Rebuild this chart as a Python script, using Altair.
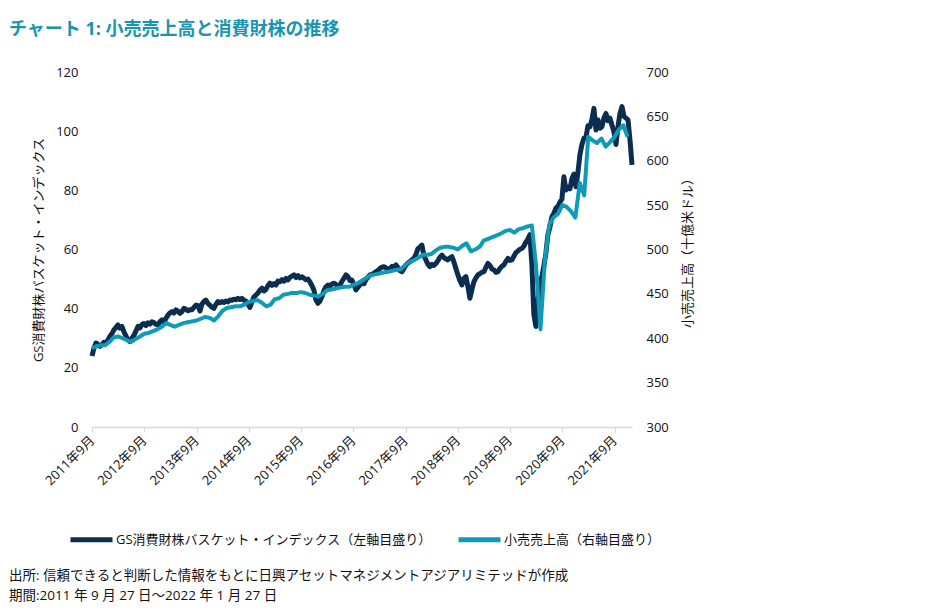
import altair as alt
import pandas as pd

FONT = "Open Sans, Noto Sans CJK JP"

title_text = "チャート 1: 小売売上高と消費財株の推移"
source_lines = [
    "出所: 信頼できると判断した情報をもとに日興アセットマネジメントアジアリミテッドが作成",
    "期間:2011 年 9 月 27 日～2022 年 1 月 27 日",
]
series_names = [
    "GS消費財株バスケット・インデックス（左軸目盛り）",
    "小売売上高（右軸目盛り）",
]
series_colors = ["#0b2e50", "#0f9bb5"]
left_title = "GS消費財株バスケット・インデックス"
right_title = "小売売上高（十億米ドル）"
tick_years = [2011, 2012, 2013, 2014, 2015, 2016, 2017, 2018, 2019, 2020, 2021]
left_ticks = [0, 20, 40, 60, 80, 100, 120]
right_ticks = [300, 350, 400, 450, 500, 550, 600, 650, 700]

# GS consumer basket index (left axis), ~every two weeks, 2011-09-27 .. 2022-01-27
gs_start = "2011-09-27"
gs_end = "2022-01-27"
gs_values = [
    24.0, 26.5, 28.4, 28.0, 27.3, 27.8, 28.6, 28.3, 29.4, 30.6,
    31.5, 32.8, 33.6, 34.5, 33.4, 34.0, 32.2, 30.8, 29.4, 28.9,
    30.0, 31.0, 32.4, 34.0, 33.5, 34.6, 35.0, 34.3, 35.2, 34.8,
    35.6, 35.3, 34.7, 34.5, 35.6, 36.2, 35.4, 36.7, 37.8, 38.6,
    39.0, 38.5, 39.6, 39.2, 38.4, 39.0, 40.1, 39.8, 39.3, 39.6,
    39.6, 40.5, 41.2, 41.0, 39.2, 41.5, 42.4, 42.9, 41.8, 41.2,
    40.5, 40.1, 41.4, 42.4, 42.0, 42.4, 42.1, 42.6, 42.3, 42.9,
    42.8, 43.2, 43.0, 43.5, 43.1, 43.5, 42.9, 42.5, 41.5, 40.4,
    42.3, 44.0, 44.6, 45.3, 46.3, 46.9, 46.0, 46.5, 47.8, 48.6,
    47.9, 48.5, 48.0, 49.3, 49.1, 49.8, 49.3, 50.2, 49.7, 50.6,
    51.0, 51.4, 50.5, 51.2, 50.4, 50.8, 50.3, 49.8, 50.0, 49.1,
    47.8, 46.3, 43.0, 41.8, 42.5, 44.0, 46.0, 47.4, 48.0, 47.6,
    48.3, 48.6, 48.2, 47.6, 48.0, 49.2, 50.3, 51.4, 50.8, 49.5,
    49.7, 48.2, 46.3, 47.2, 48.0, 48.6, 48.4, 49.8, 50.6, 51.4,
    51.6, 52.0, 52.5, 52.9, 53.6, 54.0, 54.2, 53.8, 53.2, 53.6,
    54.3, 54.0, 54.8, 53.9, 52.8, 52.5, 53.6, 54.8, 55.4, 55.9,
    56.5, 57.0, 58.4, 60.2, 60.8, 61.5, 58.0, 56.5, 55.0, 54.2,
    55.0, 54.6, 55.3, 56.2, 57.4, 58.1, 57.3, 56.8, 56.5, 57.2,
    57.6, 55.8, 53.6, 51.4, 49.5, 48.0, 50.2, 50.8, 47.5, 43.5,
    46.5, 49.1, 50.4, 51.4, 51.8, 52.3, 52.5, 54.0, 55.3, 54.6,
    53.4, 53.1, 52.3, 52.5, 53.6, 54.3, 54.8, 56.0, 57.0, 56.3,
    56.5, 57.8, 59.0, 59.5, 60.1, 60.4, 61.2, 62.5, 63.5, 65.0,
    55.0, 38.0, 34.0, 42.0, 49.0, 50.8, 54.5, 58.7, 65.0, 67.5,
    71.1, 72.3, 74.0, 74.5, 76.0, 77.0, 84.6, 80.1, 81.0, 80.5,
    84.0, 85.5, 81.2, 86.0, 92.0, 95.5, 97.6, 97.8, 101.8, 101.5,
    104.0, 107.7, 100.4, 103.8, 101.0, 101.5, 104.5, 106.0, 103.5, 104.4,
    102.0, 99.8, 95.5, 101.5, 106.0, 108.3, 105.0, 104.4, 103.8, 97.0,
    88.6,
]

# Retail sales (right axis, billion USD), monthly Sep 2011 .. Dec 2021
retail_start = "2011-09-27"
retail_values = [
    389, 391, 392, 392,
    396, 401, 402, 400, 398, 396, 399, 402, 405, 406, 408, 410,
    413, 417, 415, 413, 415, 417, 418, 419, 420, 422, 424, 423,
    420, 425, 431, 434, 435, 436, 436, 438, 441, 442, 443, 440,
    436, 438, 444, 445, 449, 450, 451, 451, 452, 451, 449, 448,
    447, 450, 454, 455, 456, 457, 458, 458, 460, 462, 465, 468,
    471, 472, 473, 474, 475, 476, 477, 478, 483, 486, 488, 491,
    494, 494, 495, 499, 502, 503, 503, 502, 500, 504, 507, 498,
    500, 503, 510, 512, 514, 516, 518, 521, 522, 519, 523, 524,
    526, 527, 482, 410, 486, 528, 536, 540, 550, 548, 543, 536,
    575, 561, 627, 623, 620, 625, 616, 621, 627, 635, 640, 627,
]

gs_dates = pd.date_range(gs_start, gs_end, periods=len(gs_values))
retail_dates = pd.date_range(retail_start, periods=len(retail_values), freq=pd.DateOffset(months=1))

gs_df = pd.DataFrame({"date": gs_dates.strftime("%Y-%m-%d"), "value": gs_values, "series": series_names[0]})
rt_df = pd.DataFrame({"date": retail_dates.strftime("%Y-%m-%d"), "value": retail_values, "series": series_names[1]})

x_enc = alt.X(
    "date:T",
    scale=alt.Scale(domain=[alt.DateTime(year=2011, month=9, date=27), alt.DateTime(year=2022, month=1, date=27)]),
    axis=alt.Axis(
        values=[alt.DateTime(year=y, month=9, date=27) for y in tick_years],
        format="%Y年%-m月",
        labelAngle=-45,
        labelAlign="right",
        labelBaseline="middle",
        labelPadding=6,
        labelOverlap=False,
        labelFlush=False,
        tickSize=5,
        tickColor="#d9d9d9",
        domainColor="#d9d9d9",
        domainWidth=1.5,
        grid=False,
        title=None,
        labelFontSize=13,
    ),
)

color_enc = alt.Color(
    "series:N",
    scale=alt.Scale(domain=series_names, range=series_colors),
    legend=alt.Legend(
        orient="none",
        legendX=-24,
        legendY=444,
        direction="horizontal",
        title=None,
        symbolType="stroke",
        symbolSize=1764,
        symbolStrokeWidth=5,
        labelFontSize=13,
        labelOffset=1,
        columnPadding=16,
        labelLimit=500,
        labelColor="#111111",
    ),
)

gs_line = alt.Chart(gs_df).mark_line(strokeWidth=5, strokeJoin="round").encode(
    x=x_enc,
    y=alt.Y(
        "value:Q",
        scale=alt.Scale(domain=[0, 120]),
        axis=alt.Axis(
            orient="left",
            values=left_ticks,
            title=left_title,
            ticks=False,
            domain=False,
            grid=False,
            labelPadding=14,
            titleX=-54,
            titleY=177.5,
            titleAngle=270,
            titleAlign="center",
            titleBaseline="middle",
            labelFontSize=13,
            titleFontSize=13,
            titleFontWeight="normal",
        ),
    ),
    color=color_enc,
)

rt_line = alt.Chart(rt_df).mark_line(strokeWidth=4, strokeJoin="round").encode(
    x=x_enc,
    y=alt.Y(
        "value:Q",
        scale=alt.Scale(domain=[300, 700]),
        axis=alt.Axis(
            orient="right",
            values=right_ticks,
            title=right_title,
            titleX=55,
            titleY=177.5,
            titleAngle=270,
            titleAlign="center",
            titleBaseline="middle",
            ticks=False,
            domain=False,
            grid=False,
            labelPadding=14,
            labelFontSize=13,
            titleFontSize=13,
            titleFontWeight="normal",
        ),
    ),
    color=color_enc,
)

title_layer = alt.Chart(pd.DataFrame({"t": [title_text]})).mark_text(
    align="left", baseline="middle", fontSize=18, fontWeight="bold", color="#1896b1"
).encode(x=alt.value(-83), y=alt.value(-42), text="t:N")

src_layer1 = alt.Chart(pd.DataFrame({"t": [source_lines[0]]})).mark_text(
    align="left", baseline="middle", fontSize=13.5, color="#111111"
).encode(x=alt.value(-83), y=alt.value(504), text="t:N")
src_layer2 = alt.Chart(pd.DataFrame({"t": [source_lines[1]]})).mark_text(
    align="left", baseline="middle", fontSize=13.5, color="#111111"
).encode(x=alt.value(-83), y=alt.value(524), text="t:N")

chart = (
    alt.layer(gs_line, rt_line, title_layer, src_layer1, src_layer2)
    .resolve_scale(y="independent")
    .properties(
        width=540,
        height=355,
        padding={"left": 84, "top": 64, "right": 280, "bottom": 180},
        autosize=alt.AutoSizeParams(type="none"),
    )
    .configure(font=FONT)
    .configure_view(stroke=None)
    .configure_axis(labelColor="#111111", titleColor="#111111", labelFont=FONT, titleFont=FONT)
)

chart.save("out.html", embed_options={"renderer": "svg", "actions": False})
